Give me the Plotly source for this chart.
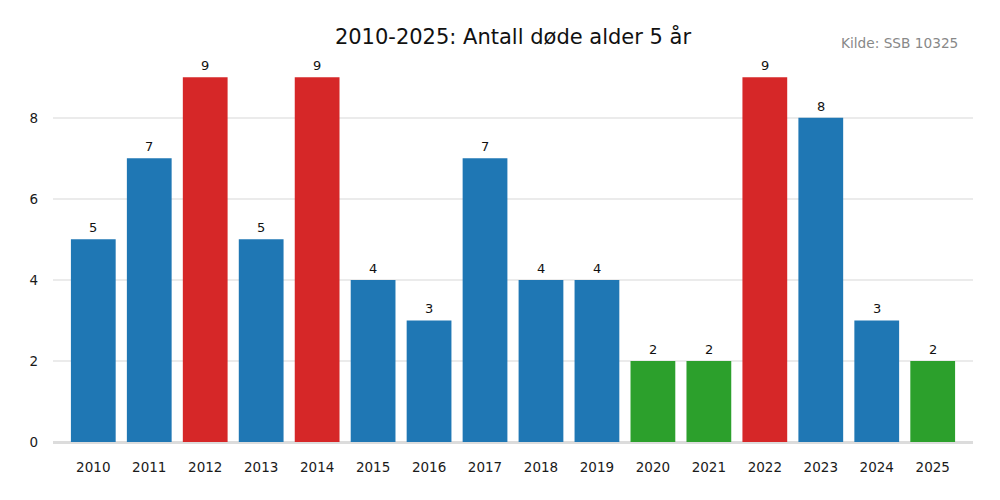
import plotly.graph_objects as go

years = [str(y) for y in range(2010, 2026)]
deaths = [5, 7, 9, 5, 9, 4, 3, 7, 4, 4, 2, 2, 9, 8, 3, 2]
title_text = "2010-2025: Antall døde alder 5 år"
source_text = "Kilde: SSB 10325"

BLUE, RED, GREEN = "#1f77b4", "#d62728", "#2ca02c"
mx, mn = max(deaths), min(deaths)
colors = [RED if v == mx else GREEN if v == mn else BLUE for v in deaths]
xs = list(range(len(years)))

fig = go.Figure(go.Bar(
    x=xs, y=deaths, marker_color=colors, marker_line_width=0, width=0.8,
    hoverinfo="skip",
))

# page body has an 8px offset; margins compensate
OFF = 8
L, R, T, B = 53 - OFF, 1000 - 973 + OFF, 59 - OFF, 500 - 442 + OFF
plot_h = 500 - T - B
plot_w = 1000 - L - R

value_labels = [dict(x=i, y=v, text=str(v), xref="x", yref="y",
                     xanchor="center", yanchor="bottom", yshift=2,
                     showarrow=False,
                     font=dict(family="DejaVu Sans", size=13, color="#111111"))
                for i, v in zip(xs, deaths)]

fig.update_layout(
    width=1000, height=500,
    margin=dict(l=L, r=R, t=T, b=B),
    paper_bgcolor="white", plot_bgcolor="white",
    font=dict(family="DejaVu Sans", size=13, color="#222222"),
    showlegend=False,
    title=dict(text=title_text, x=0.5, xref="paper", xanchor="center",
               y=1 - (37 - OFF) / 500, yref="container", yanchor="middle",
               font=dict(family="DejaVu Sans", size=21, color="#111111")),
    xaxis=dict(tickmode="array", tickvals=xs, ticktext=years,
               range=[-0.72, 15.72], showgrid=False, zeroline=False,
               showline=False, ticks="", ticklabelstandoff=15,
               tickfont=dict(size=13.5, color="#1a1a1a")),
    yaxis=dict(range=[0, 9.45], tickvals=[0, 2, 4, 6, 8], showgrid=True,
               gridcolor="#ebebeb", gridwidth=1.5, zeroline=True,
               zerolinecolor="#dcdcdc", zerolinewidth=3, showline=False,
               ticks="", ticklabelstandoff=14,
               tickfont=dict(size=13.5, color="#1a1a1a")),
    annotations=value_labels + [dict(text=source_text, xref="paper", yref="paper",
                      x=(960 - 53) / plot_w, y=(442 - 43) / plot_h,
                      xanchor="right", yanchor="middle", showarrow=False,
                      font=dict(family="DejaVu Sans", size=13.7, color="#888888"))],
)

fig.write_html("out.html")
